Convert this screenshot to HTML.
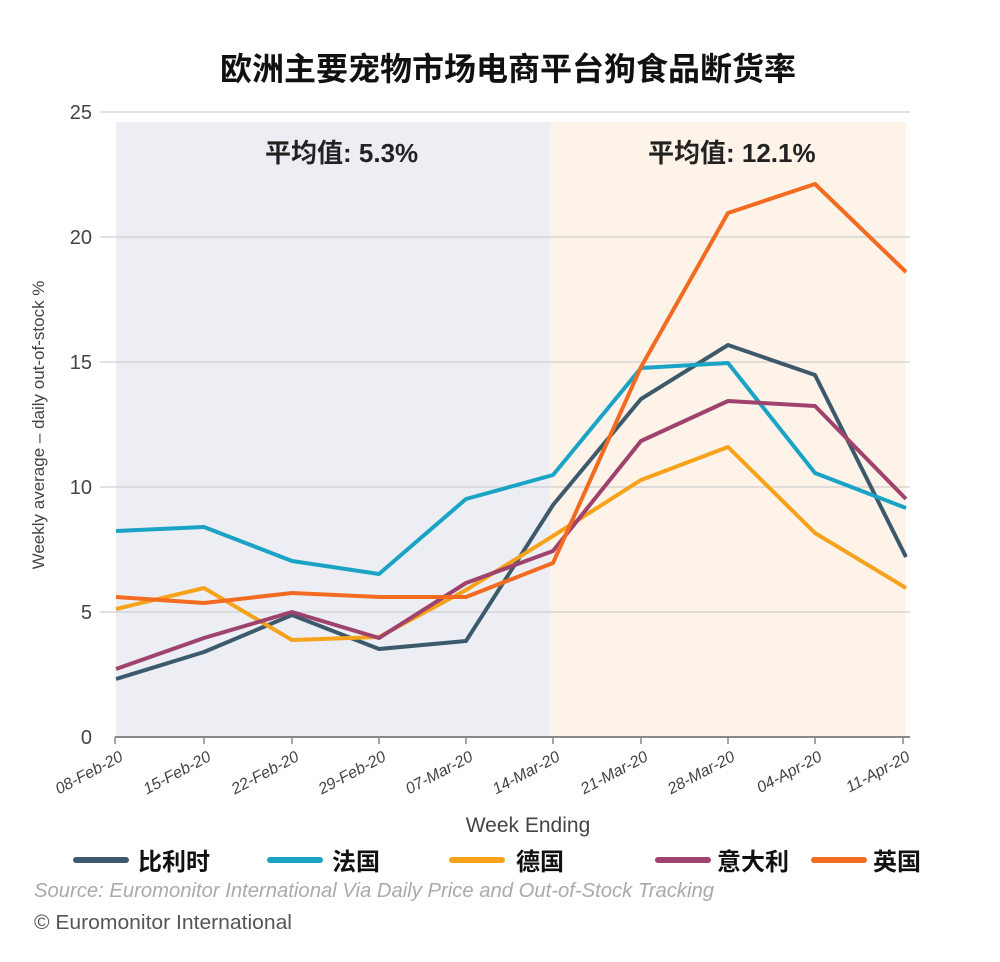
<!DOCTYPE html>
<html><head><meta charset="utf-8"><style>
html,body{margin:0;padding:0;background:#fff;}
svg{display:block;font-family:"Liberation Sans","Noto Sans CJK SC",sans-serif;}
</style></head><body>
<svg width="1000" height="962" viewBox="0 0 1000 962" xmlns="http://www.w3.org/2000/svg">
<rect width="1000" height="962" fill="#fff"/>
<text x="508" y="80" font-size="32" font-weight="bold" text-anchor="middle" fill="#111">欧洲主要宠物市场电商平台狗食品断货率</text>
<rect x="116" y="122" width="434" height="615" fill="#eceef3"/>
<rect x="550" y="122" width="356" height="615" fill="#fdf3e8"/>
<g stroke="#d0d0d0" stroke-width="1.2">
<line x1="100" y1="112" x2="910" y2="112"/>
<line x1="100" y1="237" x2="910" y2="237"/>
<line x1="100" y1="362" x2="910" y2="362"/>
<line x1="100" y1="487" x2="910" y2="487"/>
<line x1="100" y1="612" x2="910" y2="612"/>
</g>
<line x1="115" y1="737" x2="910" y2="737" stroke="#888" stroke-width="2"/>
<g stroke="#888" stroke-width="1.5">
<line x1="115" y1="737" x2="115" y2="744"/><line x1="204" y1="737" x2="204" y2="744"/><line x1="292" y1="737" x2="292" y2="744"/><line x1="379" y1="737" x2="379" y2="744"/><line x1="466" y1="737" x2="466" y2="744"/><line x1="553" y1="737" x2="553" y2="744"/><line x1="641" y1="737" x2="641" y2="744"/><line x1="728" y1="737" x2="728" y2="744"/><line x1="815" y1="737" x2="815" y2="744"/><line x1="903" y1="737" x2="903" y2="744"/>
</g>
<g font-size="20" fill="#444" text-anchor="end">
<text x="92" y="119">25</text><text x="92" y="244">20</text><text x="92" y="369">15</text><text x="92" y="494">10</text><text x="92" y="619">5</text><text x="92" y="744">0</text>
</g>
<text transform="translate(44,425) rotate(-90)" font-size="17" fill="#444" text-anchor="middle">Weekly average – daily out-of-stock %</text>
<g font-size="16" fill="#444" font-style="italic" text-anchor="end">
<text transform="translate(124,760) rotate(-28)">08-Feb-20</text>
<text transform="translate(212,760) rotate(-28)">15-Feb-20</text>
<text transform="translate(300,760) rotate(-28)">22-Feb-20</text>
<text transform="translate(387,760) rotate(-28)">29-Feb-20</text>
<text transform="translate(474,760) rotate(-28)">07-Mar-20</text>
<text transform="translate(561,760) rotate(-28)">14-Mar-20</text>
<text transform="translate(649,760) rotate(-28)">21-Mar-20</text>
<text transform="translate(736,760) rotate(-28)">28-Mar-20</text>
<text transform="translate(823,760) rotate(-28)">04-Apr-20</text>
<text transform="translate(911,760) rotate(-28)">11-Apr-20</text>
</g>
<text x="528" y="832" font-size="21" fill="#444" text-anchor="middle">Week Ending</text>
<text x="265" y="162" font-size="26" font-weight="bold" fill="#222">平均值: 5.3%</text>
<text x="648" y="162" font-size="26" font-weight="bold" fill="#222">平均值: 12.1%</text>
<g fill="none" stroke-width="4" stroke-linejoin="round">
<polyline stroke="#3d5a6c" points="116,679 204,652 292,615 379,649 466,641 553,505 641,399 728,345 815,375 906,557"/>
<polyline stroke="#1ba3c6" points="116,531 204,527 292,561 379,574 466,499 553,475 641,368 728,363 815,473 906,508"/>
<polyline stroke="#f7a21b" points="116,609 204,588 292,640 379,637 466,590 553,536 641,480 728,447 815,533 906,588"/>
<polyline stroke="#a0426e" points="116,669 204,638 292,612 379,638 466,583 553,551 641,441 728,401 815,406 906,499"/>
<polyline stroke="#f26b21" points="116,597 204,603 292,593 379,597 466,597 553,563 641,367 728,213 815,184 906,272"/>
</g>
<g stroke-width="6" stroke-linecap="round">
<line x1="76" y1="860" x2="126" y2="860" stroke="#3d5a6c"/>
<line x1="270" y1="860" x2="320" y2="860" stroke="#1ba3c6"/>
<line x1="452" y1="860" x2="502" y2="860" stroke="#f7a21b"/>
<line x1="658" y1="860" x2="708" y2="860" stroke="#a0426e"/>
<line x1="814" y1="860" x2="864" y2="860" stroke="#f26b21"/>
</g>
<g font-size="24" font-weight="bold" fill="#111">
<text x="138" y="870">比利时</text>
<text x="332" y="870">法国</text>
<text x="516" y="870">德国</text>
<text x="717" y="870">意大利</text>
<text x="873" y="870">英国</text>
</g>
<text x="34" y="897" font-size="20" font-style="italic" fill="#aaa" textLength="680" lengthAdjust="spacingAndGlyphs">Source: Euromonitor International Via Daily Price and Out-of-Stock Tracking</text>
<text x="34" y="929" font-size="20" fill="#555" textLength="258" lengthAdjust="spacingAndGlyphs">© Euromonitor International</text>
</svg>
</body></html>
